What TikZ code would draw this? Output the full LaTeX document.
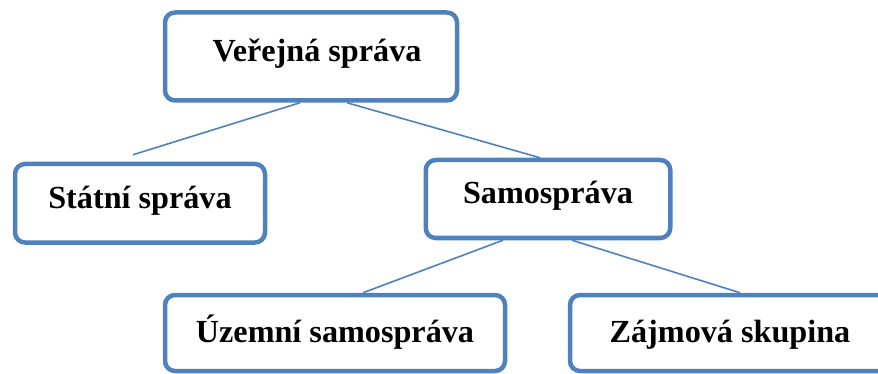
\documentclass[tikz,border=0pt]{standalone}
\usepackage{fontspec}
\setmainfont{Liberation Serif}
\definecolor{bleu}{HTML}{4F81BD}
\begin{document}
\begin{tikzpicture}[x=1pt,y=-1pt,
		cadre/.style={draw=bleu, line width=4.5pt, rounded corners=10pt, inner sep=0pt, font=\fontsize{32.2}{38}\selectfont\bfseries},
		lien/.style={draw=bleu, line width=1.6pt}]
			\useasboundingbox (0,0) rectangle (878,374);
			\draw (311,56.5) node[cadre, minimum width=292pt, minimum height=88pt, text height=49.5pt, text depth=38.5pt] (VS) {\hspace*{12pt}Veřejná správa};
			\draw (140,203.25) node[cadre, minimum width=250pt, minimum height=78.5pt, text height=44pt, text depth=34.5pt] (SS) {Státní správa};
			\draw (548,199) node[cadre, minimum width=244.5pt, minimum height=78pt, text height=44pt, text depth=34pt] (SA) {Samospráva};
			\draw (335,333) node[cadre, minimum width=340pt, minimum height=76pt, text height=47pt, text depth=29pt] (US) {Územní samospráva};
			\draw (730,333) node[cadre, minimum width=320pt, minimum height=76pt, text height=47pt, text depth=29pt] (ZS) {Zájmová skupina};
			% spojnice
			\draw[lien] ([xshift=-11pt]VS.south) to ([xshift=-7pt,yshift=7pt]SS.north);
			\draw[lien] ([xshift=36pt]VS.south) to ([xshift=-8pt]SA.north);
			\draw[lien] ([xshift=-45pt]SA.south) to ([xshift=28pt]US.north);
			\draw[lien] ([xshift=24pt]SA.south) to ([xshift=10pt]ZS.north);
		\end{tikzpicture}
\end{document}
